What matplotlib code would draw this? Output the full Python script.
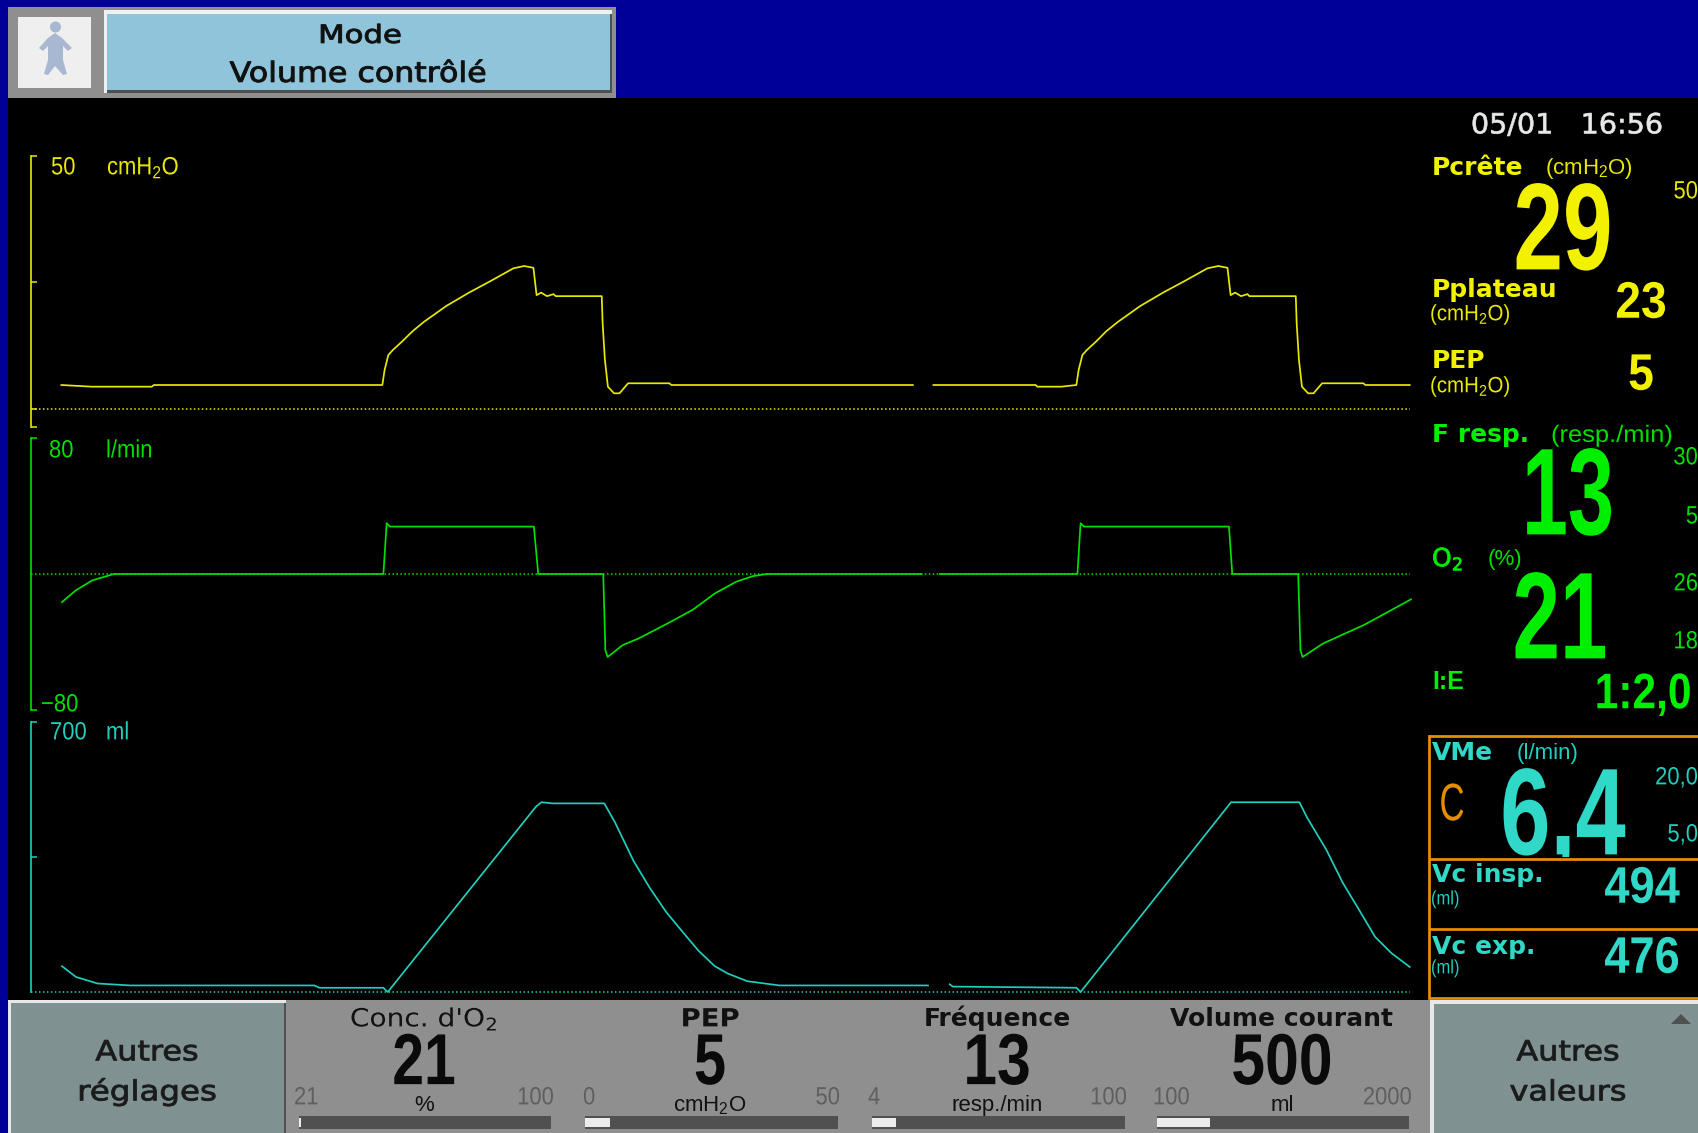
import numpy as np
import matplotlib
matplotlib.use("Agg")
import matplotlib.pyplot as plt
from matplotlib.patches import Rectangle, Polygon, Circle
from matplotlib.patheffects import AbstractPathEffect
from matplotlib.transforms import Affine2D, Bbox, TransformedBbox

plt.rcParams['mathtext.default'] = 'regular'

# ---------- waveform data (time in s, gaps as nan) ----------
pressure_t = [0.205, 0.406, 0.806, 0.82, 2.338, 2.353, 2.378, 2.408, 2.468, 2.54, 2.616, 2.763, 2.914, 3.058, 3.209,
              3.281, 3.342, 3.363, 3.393, 3.432, 3.475, 3.49, 3.796, 3.802, 3.817, 3.837, 3.878, 3.914, 3.971,
              4.245, 4.259, 5.863, 5.864, 6.0, 6.68, 6.69, 6.85, 6.95, 6.965, 6.99, 7.02, 7.08, 7.15, 7.228, 7.375,
              7.526, 7.67, 7.821, 7.893, 7.954, 7.975, 8.005, 8.044, 8.087, 8.10, 8.408, 8.414, 8.429, 8.449,
              8.49, 8.526, 8.583, 8.857, 8.87, 9.165]
pressure_v = [4.74, 4.41, 4.41, 4.74, 4.74, 7.7, 10.67, 11.66, 13.3, 15.4, 17.26, 20.36, 23.0, 25.3, 27.8,
              28.26, 27.9, 22.5, 23.0, 22.3, 22.7, 22.3, 22.3, 16.9, 9.7, 4.4, 3.1, 3.1, 5.08,
              5.08, 4.74, 4.74, np.nan, 4.74, 4.74, 4.41, 4.41, 4.74, 7.7, 10.67, 11.66, 13.3, 15.4, 17.26, 20.36,
              23.0, 25.3, 27.8, 28.26, 27.9, 22.5, 23.0, 22.3, 22.7, 22.3, 22.3, 16.9, 9.7, 4.4,
              3.1, 3.1, 5.08, 5.08, 4.74, 4.74]

flow_t = [0.209, 0.302, 0.41, 0.554, 2.345, 2.367, 2.388, 3.345, 3.374, 3.806, 3.82, 3.835, 3.935, 4.043, 4.259,
          4.403, 4.547, 4.691, 4.799, 4.892, 5.921, 5.922, 6.043, 6.957, 6.978, 7.0, 7.964, 7.986, 8.424, 8.439, 8.453,
          8.59, 8.863, 9.173]
flow_v = [-16.6, -9.6, -3.8, 0, 0, 30, 28, 28, 0, 0, -45, -49, -42, -38, -28,
          -21, -11.5, -4.5, -1.3, 0, 0, np.nan, 0, 0, 30, 28, 28, 0, 0, -45, -49,
          -41, -30, -15]

volume_t = [0.209, 0.302, 0.446, 0.662, 1.885, 1.921, 2.345, 2.374, 3.36, 3.396, 3.468, 3.813, 3.885, 4.007, 4.115,
            4.223, 4.331, 4.439, 4.547, 4.633, 4.763, 4.978, 5.964, 5.965, 6.108, 6.129, 6.95, 6.978, 7.978, 8.432,
            8.482, 8.612, 8.719, 8.827, 8.935, 9.043, 9.165]
volume_v = [67, 39, 22, 17, 17, 11, 11, 0, 481, 492, 489, 489, 439, 340, 270,
            208, 157, 107, 67, 48, 28, 17, 17, np.nan, 20, 14, 11, 0, 492, 492,
            453, 368, 284, 214, 143, 101, 65]

# ---------- numeric panels ----------
settings_titles = ["Conc. d'O$_2$", "PEP", "Fréquence", "Volume courant"]
settings_values = [21, 5, 13, 500]
settings_units = ["%", "cmH$_2$O", "resp./min", "ml"]
settings_min = [21, 0, 4, 100]
settings_max = [100, 50, 100, 2000]

NAVY = '#000099'; BLACK = '#000000'; GRAY = '#8f8f8f'; SLATE = '#7f9191'; DARK = '#505050'
YEL = '#e8e800'; GRN = '#00e000'; TEAL = '#22cdbd'; ORANGE = '#e68c00'
YELB = '#f2f200'; GRNB = '#00ee00'; TEALB = '#30d8c8'
SANS = ['Liberation Sans', 'DejaVu Sans']
WIDE = ['DejaVu Sans']

fig = plt.figure(figsize=(16.98, 11.33), dpi=100, facecolor=NAVY)
bg = fig.add_axes([0, 0, 1, 1], zorder=0)
bg.set_xlim(0, 1698); bg.set_ylim(1133, 0); bg.axis('off')


class Squeeze(AbstractPathEffect):
    """Scale a text's glyphs horizontally about its anchor, as the monitor's narrow font looks."""
    def __init__(self, sx, x, extra=0.0):
        super().__init__()
        self.sx, self.x, self.extra = sx, x, extra

    def draw_path(self, renderer, gc, tpath, affine, rgbFace=None):
        cx = bg.transData.transform((self.x, 0))[0]
        tr = affine + Affine2D().translate(-cx, 0).scale(self.sx, 1).translate(cx, 0)
        if self.extra:
            gc.set_linewidth(self.extra)
        renderer.draw_path(gc, tpath, tr, rgbFace)


def rect(x0, y0, x1, y1, c, z=1):
    bg.add_patch(Rectangle((x0, y0), x1 - x0, y1 - y0, fc=c, ec='none', zorder=z))


def txt(x, y, s, c, size, ha='left', fam=SANS, w='normal', sx=1.0, extra=0.0):
    base = y - 1.5 + 0.355 * size * 100 / 72
    t = bg.text(x, base, s, color=c, fontsize=size, ha=ha, va='baseline', family=fam, weight=w, zorder=5)
    if sx != 1.0 or extra:
        t.set_path_effects([Squeeze(sx, x, extra)])
    return t


# main black area
rect(8, 98, 1698, 1000, BLACK)

# top widget
rect(8, 7, 616, 98, GRAY)
rect(18, 17, 91, 88, '#efefef', 2)
rect(104, 10, 612, 93, '#f0f0f0', 2)
rect(107, 14, 612, 93, '#505050', 2)
rect(107, 14, 610, 90, '#90c4da', 3)
icon = '#a8b8d0'
bg.add_patch(Circle((55.5, 27), 5.5, fc=icon, ec='none', zorder=4))
bg.add_patch(Polygon([(55, 33), (62, 38), (72, 48), (68, 51), (63, 46), (63, 60), (67, 74), (63, 75),
                      (55, 66), (48, 75), (44, 74), (48, 60), (48, 46), (43, 51), (39, 48), (48, 38)],
                     closed=True, fc=icon, ec='none', zorder=4))
txt(360, 35.5, 'Mode', '#101010', 18, 'center', WIDE, sx=1.23, extra=0.7)
txt(358, 73.5, 'Volume contrôlé', '#101010', 20, 'center', WIDE, sx=1.14, extra=0.7)

# ---------- waveform axes ----------
XMAX = 9.167


def wave(top, bottom, ylim, yticks, t, v, c):
    ax = fig.add_axes([30.5 / 1698, 1 - bottom / 1133, (1410 - 30.5) / 1698, (bottom - top) / 1133], zorder=3)
    ax.patch.set_alpha(0)
    ax.set_xlim(0, XMAX); ax.set_ylim(*ylim)
    for s in ['top', 'right', 'bottom']:
        ax.spines[s].set_visible(False)
    ax.spines['left'].set_color(c); ax.spines['left'].set_linewidth(1.2)
    ax.set_xticks([])
    ax.set_yticks(yticks); ax.set_yticklabels([])
    ax.tick_params(axis='y', direction='in', length=4, width=1.1, color=c)
    ax.axhline(0, color=c, lw=1.1, ls=(0, (1, 1.6)), clip_on=False)
    ax.plot(t, v, color=c, lw=1.25, solid_joinstyle='round', clip_on=False)
    return ax


wave(156, 427, (-3.56, 50), [-3.56, 0, 25, 50], pressure_t, pressure_v, YEL)
wave(438.5, 709.5, (-80, 80), [-80, 80], flow_t, flow_v, GRN)
wave(722, 992, (0, 700), [350, 700], volume_t, volume_v, TEAL)

S = dict(size=18, sx=0.88)
txt(51, 167, '50', YEL, **S); txt(107, 167, 'cmH$_2$O', YEL, **S)
txt(49, 450, '80', GRN, **S); txt(106, 450, 'l/min', GRN, **S)
txt(41, 704, '−80', GRN, **S)
txt(50, 732, '700', TEAL, **S); txt(106, 732, 'ml', TEAL, **S)

# ---------- right column ----------
txt(1567, 125, '05/01   16:56', '#e8e8e8', 20, 'center', WIDE, sx=1.03, extra=0.5)
txt(1432, 168, 'Pcrête', YELB, 18, fam=WIDE, w='bold'); txt(1545, 168, '(cmH$_2$O)', YEL, 16)
txt(1563, 227, '29', YELB, 89, 'center', w='bold', sx=0.72)
txt(1698, 191, '50', YEL, size=18, ha='right', sx=0.88)
txt(1432, 290, 'Pplateau', YELB, 18, fam=WIDE, w='bold'); txt(1430, 314, '(cmH$_2$O)', YEL, 16, sx=0.92)
txt(1641, 301, '23', YELB, 37, 'center', w='bold', sx=0.9)
txt(1432, 361, 'PEP', YELB, 18, fam=WIDE, w='bold'); txt(1430, 386, '(cmH$_2$O)', YEL, 16, sx=0.92)
txt(1641, 373, '5', YELB, 37, 'center', w='bold', sx=0.9)
txt(1432, 435, 'F resp.', GRNB, 18, fam=WIDE, w='bold'); txt(1551, 435, '(resp./min)', GRN, 17, sx=1.08)
txt(1568, 492, '13', GRNB, 89, 'center', w='bold', sx=0.67)
txt(1698, 457, '30', GRN, size=18, ha='right', sx=0.88); txt(1698, 516, '5', GRN, size=18, ha='right', sx=0.88)
txt(1432, 559, 'O$_2$', GRNB, 18, fam=WIDE, extra=0.6); txt(1488, 559, '(%)', GRN, 16)
txt(1560, 616, '21', GRNB, 89, 'center', w='bold', sx=0.69)
txt(1698, 583, '26', GRN, size=18, ha='right', sx=0.88); txt(1698, 641, '18', GRN, size=18, ha='right', sx=0.88)
txt(1432, 682, 'I:E', GRNB, 18, w='bold')
txt(1643, 692, '1:2,0', GRNB, 36, 'center', w='bold', sx=0.85)

# orange boxes
for y in [736, 859, 929, 998]:
    bg.plot([1429, 1698], [y, y], color=ORANGE, lw=2.0, zorder=4, solid_capstyle='butt')
bg.plot([1429, 1429], [736, 998], color=ORANGE, lw=2.0, zorder=4)
txt(1432, 753, 'VMe', TEALB, 18, fam=WIDE, w='bold'); txt(1517, 753, '(l/min)', TEAL, 16)
txt(1452, 803, 'C', ORANGE, 38, 'center', sx=0.66)
vme = txt(1563, 812, '6,4', TEALB, 89, 'center', w='bold', sx=0.73)
vme.set_clip_box(TransformedBbox(Bbox([[1432, 738], [1698, 857]]), bg.transData))
vme.set_clip_on(True)
txt(1698, 777, '20,0', TEAL, size=18, ha='right', sx=0.88); txt(1698, 834, '5,0', TEAL, size=18, ha='right', sx=0.88)
txt(1432, 875, 'Vc insp.', TEALB, 18, fam=WIDE, w='bold'); txt(1431, 899, '(ml)', TEAL, 14, sx=0.85)
txt(1642, 886, '494', TEALB, 37, 'center', w='bold', sx=0.88)
txt(1432, 947, 'Vc exp.', TEALB, 18, fam=WIDE, w='bold'); txt(1431, 968, '(ml)', TEAL, 14, sx=0.85)
txt(1642, 956, '476', TEALB, 37, 'center', w='bold', sx=0.88)

# ---------- bottom bar ----------
rect(8, 1000, 1430, 1133, GRAY)
rect(8, 1000, 286, 1133, '#e8e8e8', 2)
rect(11, 1003, 284, 1133, SLATE, 3)
rect(284, 1003, 286, 1133, '#505050', 3)
rect(1430, 1000, 1698, 1133, '#e8e8e8', 2)
rect(1434, 1004, 1698, 1133, SLATE, 3)
bg.add_patch(Polygon([(1671, 1024), (1691, 1024), (1681, 1014)], closed=True, fc=DARK, ec='none', zorder=4))
txt(147, 1052, 'Autres', '#1a1a1a', 20, 'center', WIDE, sx=1.15, extra=0.6)
txt(147, 1092, 'réglages', '#1a1a1a', 20, 'center', WIDE, sx=1.17, extra=0.6)
txt(1568, 1052, 'Autres', '#1a1a1a', 20, 'center', WIDE, sx=1.15, extra=0.6)
txt(1568, 1092, 'valeurs', '#1a1a1a', 20, 'center', WIDE, sx=1.15, extra=0.6)

centers = [424, 710, 997, 1282]
bar_x0 = [299, 585, 872, 1157]
bar_x1 = [551, 838, 1125, 1409]
lab_l = [294, 583, 868, 1153]
lab_r = [554, 840, 1127, 1412]
title_sx = [1.12, 1.1, 1.0, 1.0]
value_sx = [0.79, 0.8, 0.84, 0.84]
for i in range(4):
    wt = 'bold' if i >= 1 else 'normal'
    txt(centers[i], 1019, settings_titles[i], '#111111', 18, 'center', WIDE, wt, sx=title_sx[i])
    txt(centers[i], 1060, str(settings_values[i]), '#0a0a0a', 52, 'center', w='bold', sx=value_sx[i])
    txt(centers[i], 1105, settings_units[i], '#111111', 16, 'center')
    txt(lab_l[i], 1097, str(settings_min[i]), '#5f5f5f', 18, sx=0.88)
    txt(lab_r[i], 1097, str(settings_max[i]), '#5f5f5f', 18, 'right', sx=0.88)
    rect(bar_x0[i], 1116, bar_x1[i], 1129, DARK, 2)
    frac = (settings_values[i] - settings_min[i]) / (settings_max[i] - settings_min[i])
    rect(bar_x0[i], 1118, bar_x0[i] + max(frac * (bar_x1[i] - bar_x0[i]), 2), 1127, '#ececec', 3)

fig.savefig('out.png', dpi=100, facecolor=NAVY)
